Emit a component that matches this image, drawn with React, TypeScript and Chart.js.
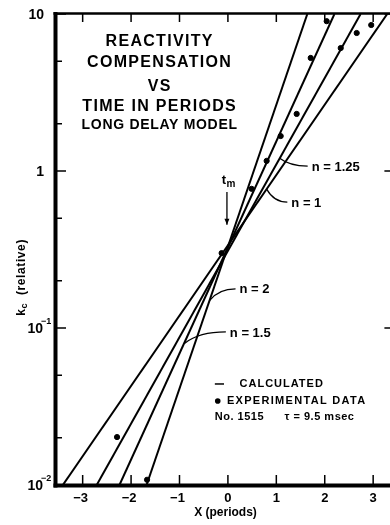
import React, { useEffect, useRef } from "react";
import { Chart, registerables } from "chart.js";
Chart.register(...registerables);

// ---- data ----
const lineK = [0.01, 10];
const n2X = [-1.68, 1.64];
const n15X = [-2.24, 2.2];
const n125X = [-2.71, 2.74];
const n1X = [-3.41, 3.29];

const expX = [-2.29, -1.67, -0.13, 0.49, 0.8, 1.09, 1.42, 1.71, 2.04, 2.33, 2.66, 2.96];
const expK = [0.0202, 0.0108, 0.3, 0.77, 1.16, 1.67, 2.31, 5.25, 9.0, 6.07, 7.57, 8.51];

const xTickValues = [-3, -2, -1, 0, 1, 2, 3];
const xTickLabels = ["\u22123", "\u22122", "\u22121", "0", "1", "2", "3"];
const yMajorTicks = [0.01, 0.1, 1, 10];
const yLabelBase = ["10", "10", "1", "10"];
const yLabelSup = ["\u22122", "\u22121", "", ""];
const yMinorTicks = [0.02, 0.05, 0.2, 0.5, 2, 5];

const titleLines = ["REACTIVITY", "COMPENSATION", "VS", "TIME IN PERIODS", "LONG DELAY MODEL"];
const titleK = [6.64, 4.88, 3.47, 2.56, 1.96];
const titleX = -1.41;

const nLabels = ["n = 2", "n = 1.5", "n = 1.25", "n = 1"];
const nLabelX = [0.24, 0.04, 1.73, 1.31];
const nLabelK = [0.175, 0.093, 1.06, 0.625];
const nAnchorX = [-0.375, -0.89, 1.07, 0.8];
const nAnchorK = [0.15, 0.08, 1.205, 0.767];

const FONT = '"Liberation Sans", Arial, sans-serif';

const pts = (xs: number[], ks: number[]) => xs.map((x, i) => ({ x, y: ks[i] }));

const annotPlugin = {
  id: "annot",
  afterDatasetsDraw(chart: any) {
    const { ctx, chartArea: a, scales } = chart;
    const xs = scales.x;
    const ys = scales.y;
    const P = (x: number, k: number) => [xs.getPixelForValue(x), ys.getPixelForValue(k)];
    ctx.save();
    ctx.strokeStyle = "#000";
    ctx.fillStyle = "#000";
    ctx.lineCap = "butt";

    // frame
    ctx.lineWidth = 4;
    ctx.beginPath();
    ctx.moveTo(a.left - 1.5, a.top - 2);
    ctx.lineTo(a.left - 1.5, a.bottom + 2.5);
    ctx.stroke();
    ctx.beginPath();
    ctx.moveTo(a.left - 3.5, a.bottom + 0.5);
    ctx.lineTo(a.right + 2, a.bottom + 0.5);
    ctx.stroke();
    ctx.lineWidth = 2.5;
    ctx.beginPath();
    ctx.moveTo(a.left - 3.5, a.top - 0.5);
    ctx.lineTo(a.right + 2, a.top - 0.5);
    ctx.stroke();
    ctx.lineWidth = 2;
    ctx.beginPath();
    ctx.moveTo(a.right, a.top);
    ctx.lineTo(a.right, a.bottom);
    ctx.stroke();

    // x ticks (inward, top and bottom)
    ctx.lineWidth = 1.5;
    for (const v of xTickValues) {
      const px = xs.getPixelForValue(v);
      ctx.beginPath();
      ctx.moveTo(px, a.top);
      ctx.lineTo(px, a.top + 8);
      ctx.moveTo(px, a.bottom - 1);
      ctx.lineTo(px, a.bottom - 10);
      ctx.stroke();
    }
    // y ticks
    for (const v of yMajorTicks) {
      const py = ys.getPixelForValue(v);
      ctx.beginPath();
      ctx.moveTo(a.left, py);
      ctx.lineTo(a.left + 9, py);
      ctx.moveTo(a.right, py);
      ctx.lineTo(a.right - 12, py);
      ctx.stroke();
    }
    for (const v of yMinorTicks) {
      const py = ys.getPixelForValue(v);
      ctx.beginPath();
      ctx.moveTo(a.left, py);
      ctx.lineTo(a.left + 5, py);
      ctx.moveTo(a.right, py);
      ctx.lineTo(a.right - 5, py);
      ctx.stroke();
    }

    // x tick labels
    ctx.font = `bold 13px ${FONT}`;
    ctx.textAlign = "center";
    ctx.textBaseline = "middle";
    xTickValues.forEach((v, i) => {
      ctx.fillText(xTickLabels[i], xs.getPixelForValue(v) - (v < 0 ? 2 : 0), a.bottom + 13);
    });

    // y tick labels
    yMajorTicks.forEach((v, i) => {
      const py = ys.getPixelForValue(v);
      ctx.font = `bold 14px ${FONT}`;
      ctx.textAlign = "right";
      ctx.textBaseline = "middle";
      const baseRight = yLabelSup[i] ? a.left - 14 : a.left - 13;
      ctx.fillText(yLabelBase[i], baseRight, py + 1);
      if (yLabelSup[i]) {
        ctx.font = `bold 9px ${FONT}`;
        ctx.textAlign = "left";
        ctx.fillText(yLabelSup[i], baseRight - 2, py - 6);
      }
    });

    // axis titles
    ctx.font = `bold 12px ${FONT}`;
    ctx.textAlign = "center";
    ctx.textBaseline = "middle";
    ctx.fillText("X (periods)", xs.getPixelForValue(-0.05), a.bottom + 28);

    ctx.save();
    ctx.translate(a.left - 35, ys.getPixelForValue(0.21));
    ctx.rotate(-Math.PI / 2);
    ctx.textAlign = "left";
    (ctx as any).letterSpacing = "0.6px";
    ctx.font = `bold 12px ${FONT}`;
    const t1 = "k";
    const t2 = "c";
    const t3 = "  (relative)";
    const w1 = ctx.measureText(t1).width;
    ctx.font = `bold 9px ${FONT}`;
    const w2 = ctx.measureText(t2).width;
    ctx.font = `bold 12px ${FONT}`;
    const w3 = ctx.measureText(t3).width;
    let sx = -(w1 + w2 + w3) / 2;
    ctx.fillText(t1, sx, 0);
    sx += w1;
    ctx.font = `bold 9px ${FONT}`;
    ctx.fillText(t2, sx, 3);
    sx += w2;
    ctx.font = `bold 12px ${FONT}`;
    ctx.fillText(t3, sx, 0);
    (ctx as any).letterSpacing = "0px";
    ctx.restore();

    // title block
    titleLines.forEach((s, i) => {
      const [px, py] = P(titleX, titleK[i]);
      const last = i === titleLines.length - 1;
      ctx.font = last ? `bold 14px ${FONT}` : `bold 16px ${FONT}`;
      (ctx as any).letterSpacing = last ? "0.7px" : "1.3px";
      ctx.textAlign = "center";
      ctx.fillText(s, px, py);
    });
    (ctx as any).letterSpacing = "0px";

    // n labels with leaders
    ctx.lineWidth = 1.2;
    nLabels.forEach((s, i) => {
      const [tx, ty] = P(nLabelX[i], nLabelK[i]);
      const [ax, ay] = P(nAnchorX[i], nAnchorK[i]);
      ctx.beginPath();
      ctx.moveTo(ax, ay);
      const ex = tx - 4;
      const ey = ty - 1;
      ctx.quadraticCurveTo(ax + (ex - ax) * 0.35, ey, ex, ey);
      ctx.stroke();
      ctx.font = `bold 13px ${FONT}`;
      ctx.textAlign = "left";
      ctx.textBaseline = "middle";
      ctx.fillText(s, tx, ty);
    });

    // t_m with arrow
    const [mx, my] = P(-0.02, 0.851);
    ctx.font = `bold 13px ${FONT}`;
    ctx.textAlign = "center";
    ctx.fillText("t", mx - 3, my - 2);
    ctx.font = `bold 10px ${FONT}`;
    ctx.fillText("m", mx + 4, my + 2);
    const [, a0] = P(0, 0.735);
    const [, a1] = P(0, 0.455);
    ctx.lineWidth = 1.3;
    ctx.beginPath();
    ctx.moveTo(mx, a0);
    ctx.lineTo(mx, a1);
    ctx.stroke();
    ctx.beginPath();
    ctx.moveTo(mx - 2.5, a1 - 6);
    ctx.lineTo(mx, a1);
    ctx.lineTo(mx + 2.5, a1 - 6);
    ctx.closePath();
    ctx.fill();

    // legend
    ctx.font = `bold 11px ${FONT}`;
    ctx.textAlign = "left";
    ctx.textBaseline = "middle";
    const [d0x, d0y] = P(-0.27, 0.044);
    const [d1x] = P(-0.08, 0.044);
    ctx.lineWidth = 1.5;
    ctx.beginPath();
    ctx.moveTo(d0x, d0y);
    ctx.lineTo(d1x, d0y);
    ctx.stroke();
    (ctx as any).letterSpacing = "1px";
    const [c1x, c1y] = P(0.24, 0.044);
    ctx.fillText("CALCULATED", c1x, c1y);
    const [dx, dy] = P(-0.21, 0.0343);
    ctx.beginPath();
    ctx.arc(dx, dy, 2.8, 0, Math.PI * 2);
    ctx.fill();
    (ctx as any).letterSpacing = "1.3px";
    const [e1x] = P(-0.02, 0.0343);
    ctx.fillText("EXPERIMENTAL DATA", e1x, dy);
    (ctx as any).letterSpacing = "0.5px";
    const [n1x, n1y] = P(-0.27, 0.0271);
    ctx.fillText("No. 1515", n1x, n1y);
    const [tx2] = P(1.17, 0.0271);
    ctx.fillText("\u03c4 = 9.5 msec", tx2, n1y);
    (ctx as any).letterSpacing = "0px";

    ctx.restore();
  },
};

export default function App() {
  const ref = useRef<HTMLCanvasElement>(null);
  useEffect(() => {
    if (!ref.current) return;
    const lineDs = (xs: number[]) => ({
      type: "line" as const,
      data: pts(xs, lineK),
      borderColor: "#000",
      borderWidth: 2,
      pointRadius: 0,
      showLine: true,
      fill: false,
      tension: 0,
    });
    const chart = new Chart(ref.current, {
      type: "scatter",
      data: {
        datasets: [
          lineDs(n2X),
          lineDs(n15X),
          lineDs(n125X),
          lineDs(n1X),
          {
            type: "scatter",
            data: pts(expX, expK),
            backgroundColor: "#000",
            borderColor: "#000",
            pointRadius: 2.6,
            pointHoverRadius: 2.6,
          } as any,
        ],
      },
      options: {
        responsive: false,
        animation: false,
        devicePixelRatio: 1,
        events: [],
        layout: { padding: { top: 14, right: 3, left: 0, bottom: 0 } },
        plugins: { legend: { display: false }, tooltip: { enabled: false } },
        scales: {
          x: {
            type: "linear",
            min: -3.53,
            max: 3.48,
            ticks: { display: false },
            grid: { display: false },
            border: { display: false },
            afterFit: (s: any) => {
              s.height = 40;
            },
          },
          y: {
            type: "logarithmic",
            min: 0.01,
            max: 10,
            ticks: { display: false },
            grid: { display: false },
            border: { display: false },
            afterFit: (s: any) => {
              s.width = 57;
            },
          },
        },
      } as any,
      plugins: [annotPlugin],
    });
    return () => chart.destroy();
  }, []);
  return (
    <div
      style={{
        position: "fixed",
        left: 0,
        top: 0,
        width: 390,
        height: 525,
        overflow: "hidden",
        background: "#fff",
      }}
    >
      <canvas ref={ref} width={400} height={525} style={{ display: "block" }} />
    </div>
  );
}
